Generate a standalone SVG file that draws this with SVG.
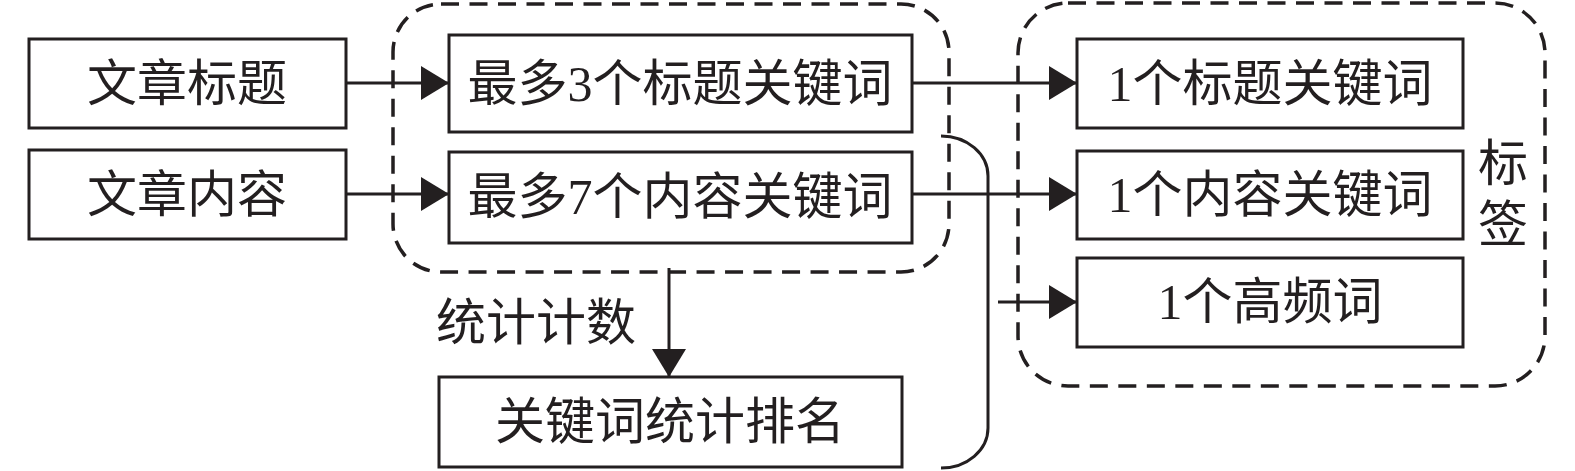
<svg xmlns="http://www.w3.org/2000/svg" width="1575" height="471" viewBox="0 0 1575 471">
<style>
.box{fill:#fff;stroke:#231f20;stroke-width:3}
.grp{fill:none;stroke:#231f20;stroke-width:3.5;stroke-dasharray:18 10.5}
.ln{fill:none;stroke:#231f20;stroke-width:3}
.t{font-family:"Liberation Serif","Noto Sans CJK SC",serif;font-size:50px;fill:#231f20;text-anchor:middle;dominant-baseline:central}
</style>
<defs>
<marker id="ah" markerUnits="userSpaceOnUse" markerWidth="29" markerHeight="34" refX="28" refY="17" orient="auto">
<path d="M0,0 L28,17 L0,34 z" fill="#231f20"/>
</marker>
</defs>
<g id="group-keywords"><rect class="grp" x="393" y="4" width="556" height="268" rx="48"/></g>
<g id="group-tags"><rect class="grp" x="1018" y="3" width="527" height="383" rx="50"/>
<text class="t" x="1503" y="164">标</text><text class="t" x="1503" y="225">签</text></g>
<g id="connectors">
<line class="ln" x1="346" y1="83" x2="449" y2="83" marker-end="url(#ah)"/>
<line class="ln" x1="346" y1="194" x2="449" y2="194" marker-end="url(#ah)"/>
<line class="ln" x1="912" y1="83" x2="1077" y2="83" marker-end="url(#ah)"/>
<line class="ln" x1="912" y1="194" x2="1077" y2="194" marker-end="url(#ah)"/>
<line class="ln" x1="998" y1="302" x2="1077" y2="302" marker-end="url(#ah)"/>
<line class="ln" x1="669" y1="268" x2="669" y2="377" marker-end="url(#ah)"/>
<path class="ln" d="M941,136 A47,40 0 0 1 988,176 L988,428 A47,40 0 0 1 941,468"/>
<text class="t" x="536" y="323">统计计数</text>
</g>
<g id="n-title"><rect class="box" x="29" y="39" width="317" height="89"/><text class="t" x="187" y="84">文章标题</text></g>
<g id="n-content"><rect class="box" x="29" y="150" width="317" height="89"/><text class="t" x="187" y="195">文章内容</text></g>
<g id="n-title-kw"><rect class="box" x="449" y="35" width="463" height="97"/><text class="t" x="680" y="84">最多3个标题关键词</text></g>
<g id="n-content-kw"><rect class="box" x="449" y="152" width="463" height="91"/><text class="t" x="680" y="197">最多7个内容关键词</text></g>
<g id="n-rank"><rect class="box" x="439" y="377" width="463" height="90"/><text class="t" x="670" y="422">关键词统计排名</text></g>
<g id="n-tag1"><rect class="box" x="1077" y="39" width="386" height="89"/><text class="t" x="1270" y="84">1个标题关键词</text></g>
<g id="n-tag2"><rect class="box" x="1077" y="151" width="386" height="88"/><text class="t" x="1270" y="195">1个内容关键词</text></g>
<g id="n-tag3"><rect class="box" x="1077" y="258" width="386" height="89"/><text class="t" x="1270" y="302">1个高频词</text></g>
</svg>
